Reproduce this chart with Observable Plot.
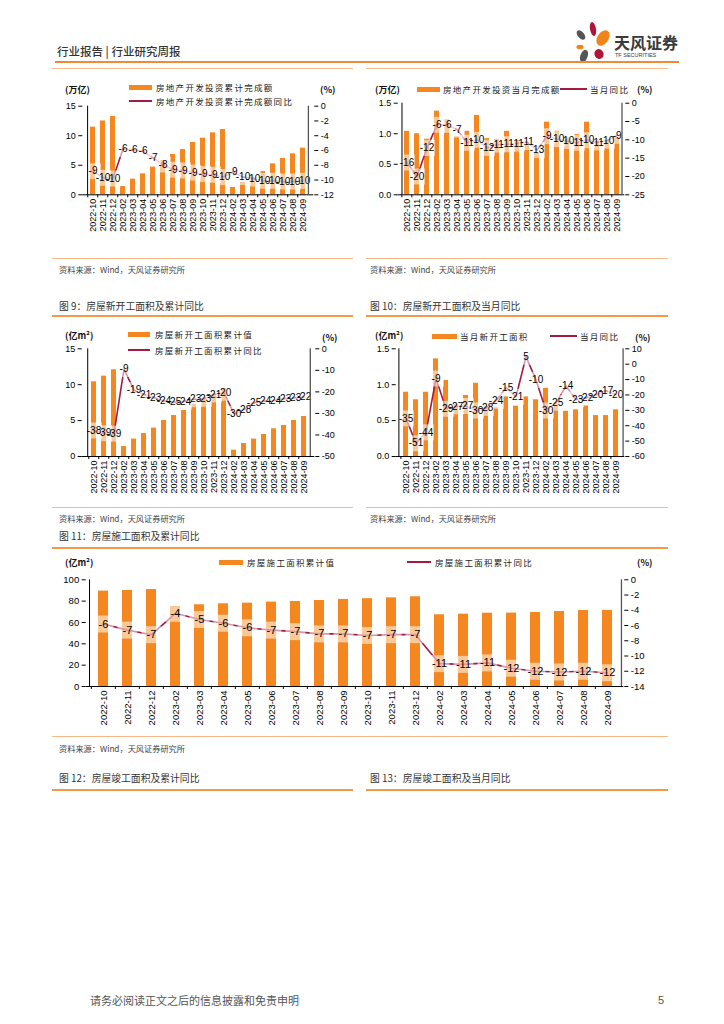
<!DOCTYPE html>
<html><head><meta charset="utf-8">
<script src="https://cdn.jsdelivr.net/npm/d3@7"></script>
<script src="https://cdn.jsdelivr.net/npm/@observablehq/plot@0.6"></script>
<style>
html,body{margin:0;padding:0;background:#fff;}
#page{position:relative;width:724px;height:1024px;overflow:hidden;background:#fff;font-family:"Noto Sans CJK SC","Liberation Sans",sans-serif;color:#333;}
.t{position:absolute;white-space:nowrap;line-height:1;transform:translateY(-50%);}
.ln{position:absolute;height:0;}
.sw{position:absolute;}
svg.plot{position:absolute;}
</style></head>
<body><div id="page"></div>
<script>
// ---------- data ----------
const months = ["2022-10","2022-11","2022-12","2023-02","2023-03","2023-04","2023-05","2023-06","2023-07","2023-08","2023-09","2023-10","2023-11","2023-12","2024-02","2024-03","2024-04","2024-05","2024-06","2024-07","2024-08","2024-09"];

// 房地产开发投资累计完成额（万亿）及同比（%）
const investCum = [11.45,12.5,13.25,1.41,2.65,3.55,4.68,5.81,6.82,7.67,8.86,9.59,10.49,11.05,1.24,2.09,3.0,3.95,5.25,6.15,6.94,7.9];
const investCumYoy = [-8.8,-9.7,-9.8,-5.8,-5.9,-6.1,-7.0,-7.9,-8.6,-8.7,-9.0,-9.2,-9.3,-9.6,-8.9,-9.6,-9.8,-10.1,-10.1,-10.2,-10.2,-10.1];

// 房地产开发投资当月完成额（万亿）及当月同比（%）
const investMonth = [1.04,1.0,0.91,1.37,1.23,0.95,1.04,1.30,0.92,0.91,1.04,0.89,0.81,0.68,1.19,1.04,0.93,0.99,1.19,0.88,0.89,0.93];
const investMonthYoy = [-16.2,-20.0,-12.2,-5.9,-5.9,-7.2,-10.8,-10.0,-12.2,-11.3,-11.2,-11.0,-10.6,-12.8,-9.0,-9.8,-10.3,-10.8,-10.1,-10.7,-10.2,-8.9];

// 房屋新开工面积累计值（亿m²）及累计同比（%）
const newStartCum = [10.4,11.19,12.08,1.39,2.42,3.2,3.95,5.02,5.71,6.41,7.3,7.9,8.7,9.47,0.88,1.81,2.42,3.07,3.86,4.32,5.02,5.57];
const newStartCumYoy = [-37.9,-39.2,-39.4,-9.4,-19.2,-21.2,-22.6,-24.3,-24.8,-24.4,-23.4,-23.2,-21.2,-20.4,-30.2,-28.2,-25.1,-24.3,-24.0,-23.2,-22.8,-22.4];

// 当月新开工面积（亿m²）及当月同比（%）
const newStartMonth = [0.895,0.79,0.895,1.36,1.06,0.72,0.85,1.02,0.70,0.68,0.83,0.70,0.83,0.79,0.95,0.72,0.63,0.65,0.71,0.57,0.57,0.65];
const newStartMonthYoy = [-35.2,-51.4,-44.3,-9.3,-29.0,-27.4,-27.2,-30.1,-28.4,-23.8,-15.2,-21.2,4.8,-10.2,-30.1,-25.1,-14.3,-23.0,-21.9,-19.8,-17.2,-19.8];

// 房屋施工面积累计值（亿m²）及累计同比（%）
const constrCum = [89.4,90.0,90.9,75.0,76.6,77.5,78.1,79.1,79.7,80.6,81.6,82.3,83.1,84.1,67.2,67.8,68.7,68.8,69.4,70.3,71.2,71.3];
const constrCumYoy = [-5.8,-6.6,-7.2,-4.4,-5.2,-5.7,-6.3,-6.6,-6.8,-7.1,-7.1,-7.3,-7.2,-7.2,-11.0,-11.1,-10.9,-11.6,-12.0,-12.1,-12.0,-12.2];

// axis ticks
const ticksLeft15 = [0,5,10,15];
const ticksLeft1_5 = [0,0.5,1.0,1.5];
const ticksLeft100 = [0,20,40,60,80,100];
const ticksRight1 = [0,-2,-4,-6,-8,-10,-12];
const ticksRight2 = [0,-5,-10,-15,-20,-25];
const ticksRight3 = [0,-10,-20,-30,-40,-50];
const ticksRight4 = [10,0,-10,-20,-30,-40,-50,-60];
const ticksRight5 = [0,-2,-4,-6,-8,-10,-12,-14];

// ---------- styles ----------
const BAR = "#f4871f";
const LINE = "#a51a40";
const page = document.getElementById("page");

function txt(x, y, s, css = "") {
  const d = document.createElement("div");
  d.className = "t"; d.textContent = s;
  d.style.cssText = `left:${x}px;top:${y}px;` + css;
  page.appendChild(d); return d;
}
function hline(x1, x2, y, color, w) {
  const d = document.createElement("div");
  d.className = "ln";
  d.style.cssText = `left:${x1}px;top:${y - w/2}px;width:${x2 - x1}px;border-top:${w}px solid ${color};`;
  page.appendChild(d);
}
function swatch(x, y, w, h, color) {
  const d = document.createElement("div");
  d.className = "sw";
  d.style.cssText = `left:${x}px;top:${y - h/2}px;width:${w}px;height:${h}px;background:${color};`;
  page.appendChild(d);
}
const legendCss = "font-size:8.5px;letter-spacing:1.3px;color:#222;font-family:'Noto Sans CJK SC',sans-serif;";
const unitCss = "font-size:9px;font-weight:bold;color:#111;font-family:'Noto Sans CJK SC','Liberation Sans',sans-serif;";

function dual(cfg) {
  const {left, top, width, height, mL, mR, mT, mB, pi, po, bars, line, lDom, lTicks, lFmt, rDom, rTicks, labelSize, boxW, boxH, tickFont} = cfg;
  const [l0, l1] = lDom, [r0, r1] = rDom;
  const toL = v => l0 + (v - r0) * (l1 - l0) / (r1 - r0);
  const toR = v => r0 + (v - l0) * (r1 - r0) / (l1 - l0);
  const data = months.map((m, i) => ({m, b: bars[i], y: toL(line[i]), lab: String(Math.round(line[i]))}));
  const n = months.length;
  const W = width - mL - mR;
  const step = W / (n - pi + 2 * po);
  const edge = (po + (1 - pi) / 2) * step;
  const box = {draw(ctx) { ctx.rect(-boxW / 2, -boxH / 2, boxW, boxH); }};
  const svg = Plot.plot({
    width, height, marginLeft: mL, marginRight: mR, marginTop: mT, marginBottom: mB,
    x: {type: "band", domain: months, paddingInner: pi, paddingOuter: po, align: 0.5},
    y: {domain: lDom},
    style: {fontFamily: "'Liberation Sans',Arial,sans-serif", fontSize: tickFont || "9px", color: "#000", background: "transparent", overflow: "visible"},
    marks: [
      Plot.barY(data, {x: "m", y: "b", fill: BAR}),
      Plot.lineY(data, {x: "m", y: "y", stroke: LINE, strokeWidth: 1.6}),
      Plot.dot(data, {x: "m", y: "y", symbol: box, r: 5, fill: "#fff", fillOpacity: 0.55, stroke: "none"}),
      Plot.text(data, {x: "m", y: "y", text: "lab", fontSize: labelSize, fill: "#000"}),
      Plot.ruleY([l0], {stroke: "#000", strokeWidth: 1}),
      Plot.ruleX([months[0]], {dx: -edge, stroke: "#000"}),
      Plot.ruleX([months[n - 1]], {dx: edge, stroke: "#555", strokeWidth: 1.3}),
      Plot.axisX({tickSize: 0, tickRotate: -90, tickPadding: 4, label: null}),
      Plot.axisX({tickSize: 3, tickFormat: () => "", dx: -step / 2, label: null}),
      Plot.axisY({anchor: "left", ticks: lTicks, tickFormat: lFmt, tickSize: 4, tickPadding: 3, label: null}),
      Plot.axisY({anchor: "right", ticks: rTicks.map(toL), tickFormat: d => String(Math.round(toR(d))), tickSize: 4, tickPadding: 3, label: null})
    ]
  });
  svg.classList.add("plot");
  svg.style.left = left + "px"; svg.style.top = top + "px";
  page.appendChild(svg);
}

// ---------- charts ----------
dual({left: 52, top: 70, width: 300, height: 172, mL: 30.3, mR: 38.7, mT: 35.7, mB: 47.7,
  pi: 0.52, po: 0.275, bars: investCum, line: investCumYoy,
  lDom: [0, 15], lTicks: ticksLeft15, lFmt: d3.format("d"), rDom: [-12, 0], rTicks: ticksRight1,
  labelSize: 10, boxW: 16, boxH: 16});

dual({left: 366, top: 70, width: 302, height: 172, mL: 31.7, mR: 43.7, mT: 32.7, mB: 47.7,
  pi: 0.5, po: 0.235, bars: investMonth, line: investMonthYoy,
  lDom: [0, 1.5], lTicks: ticksLeft1_5, lFmt: d3.format(".1f"), rDom: [-25, 0], rTicks: ticksRight2,
  labelSize: 10, boxW: 16, boxH: 16});

dual({left: 52, top: 318, width: 300, height: 180, mL: 29.7, mR: 37.7, mT: 30.3, mB: 42,
  pi: 0.52, po: 0.36, bars: newStartCum, line: newStartCumYoy,
  lDom: [0, 15], lTicks: ticksLeft15, lFmt: d3.format("d"), rDom: [-50, 0], rTicks: ticksRight3,
  labelSize: 10, boxW: 16, boxH: 16});

dual({left: 366, top: 318, width: 302, height: 180, mL: 29.7, mR: 43.7, mT: 30.3, mB: 42,
  pi: 0.5, po: 0.445, bars: newStartMonth, line: newStartMonthYoy,
  lDom: [0, 1.5], lTicks: ticksLeft1_5, lFmt: d3.format(".1f"), rDom: [-60, 10], rTicks: ticksRight4,
  labelSize: 10, boxW: 16, boxH: 16});

dual({left: 52, top: 550, width: 616, height: 185, mL: 33.7, mR: 44.7, mT: 29.3, mB: 49,
  pi: 0.59, po: 0.37, bars: constrCum, line: constrCumYoy,
  lDom: [0, 100], lTicks: ticksLeft100, lFmt: d3.format("d"), rDom: [-14, 0], rTicks: ticksRight5,
  labelSize: 11, boxW: 20, boxH: 17, tickFont: "9.5px"});

// ---------- header ----------
txt(57, 52, "行业报告 | 行业研究周报", "font-size:11.5px;color:#333;font-weight:500;");
const logo = document.createElementNS("http://www.w3.org/2000/svg", "svg");
logo.setAttribute("width", "36"); logo.setAttribute("height", "42");
logo.style.cssText = "position:absolute;left:575px;top:21px;";
logo.innerHTML = `
<ellipse cx="18" cy="8" rx="3" ry="7" fill="#b0163c" transform="rotate(-10 18 8)"/>
<ellipse cx="6" cy="14" rx="3.2" ry="5.5" fill="#555" transform="rotate(-40 6 14)"/>
<ellipse cx="28" cy="17" rx="5.5" ry="8.5" fill="#f08519" transform="rotate(35 28 17)"/>
<ellipse cx="5" cy="26" rx="3.6" ry="2.3" fill="#f08519"/>
<ellipse cx="9" cy="35" rx="3.6" ry="6.5" fill="#555" transform="rotate(20 9 35)"/>
<ellipse cx="24" cy="33" rx="4.5" ry="5" fill="#b0163c" transform="rotate(-30 24 33)"/>`;
page.appendChild(logo);
txt(614, 42, "天风证券", "font-size:16px;font-weight:bold;color:#3a3a3a;");
txt(615, 56, "TF SECURITIES", "font-size:5.5px;color:#3a3a3a;font-family:'Liberation Sans',sans-serif;");
hline(55, 679, 62, "#ee8a38", 2);

// ---------- row 1 ----------
hline(52, 353, 69, "#f7b987", 1.5);
hline(366, 668, 69, "#f7b987", 1.5);
txt(65, 89, "(万亿)", unitCss);
swatch(129, 87, 23, 5, BAR);
txt(156, 87, "房地产开发投资累计完成额", legendCss);
swatch(129, 101, 23, 2, LINE);
txt(156, 101, "房地产开发投资累计完成额同比", legendCss);
txt(320, 89, "(%)", unitCss);

txt(375, 89, "(万亿)", unitCss);
swatch(417, 89, 23, 5, BAR);
txt(443, 89, "房地产开发投资当月完成额", legendCss);
swatch(560, 89, 27, 2, LINE);
txt(590, 89, "当月同比", legendCss);
txt(637, 89, "(%)", unitCss);

hline(52, 353, 259, "#f7b987", 1.5);
hline(366, 668, 259, "#f7b987", 1.5);
const srcCss = "font-size:8.2px;color:#444;";
txt(59, 269, "资料来源：Wind，天风证券研究所", srcCss);
txt(370, 269, "资料来源：Wind，天风证券研究所", srcCss);
const capCss = "font-size:9.8px;color:#333;";
txt(59, 307, "图 9：房屋新开工面积及累计同比", capCss);
txt(370, 307, "图 10：房屋新开工面积及当月同比", capCss);
hline(52, 353, 316, "#f29a4c", 2);
hline(366, 668, 316, "#f29a4c", 2);

// ---------- row 2 ----------
txt(65, 335, "(亿m²)", unitCss);
swatch(128, 334, 22, 5, BAR);
txt(155, 334, "房屋新开工面积累计值", legendCss);
swatch(128, 350, 22, 2, LINE);
txt(155, 350, "房屋新开工面积累计同比", legendCss);
txt(322, 337, "(%)", unitCss);

txt(375, 335, "(亿m²)", unitCss);
swatch(432, 336, 25, 5, BAR);
txt(460, 336, "当月新开工面积", legendCss);
swatch(550, 336, 27, 2, LINE);
txt(580, 336, "当月同比", legendCss);
txt(635, 337, "(%)", unitCss);

hline(52, 353, 508, "#f7b987", 1.5);
hline(366, 668, 508, "#f7b987", 1.5);
txt(59, 518, "资料来源：Wind，天风证券研究所", srcCss);
txt(370, 518, "资料来源：Wind，天风证券研究所", srcCss);
txt(59, 537, "图 11：房屋施工面积及累计同比", capCss);
hline(52, 668, 548, "#f29a4c", 2);

// ---------- row 3 ----------
txt(65, 562, "(亿m²)", unitCss);
swatch(219, 562, 24, 5, BAR);
txt(247, 562, "房屋施工面积累计值", legendCss);
swatch(407, 562, 24, 2, LINE);
txt(435, 562, "房屋施工面积累计同比", legendCss);
txt(637, 562, "(%)", unitCss);

hline(52, 668, 737, "#f7b987", 1.5);
txt(59, 748, "资料来源：Wind，天风证券研究所", srcCss);
txt(59, 779, "图 12：房屋竣工面积及累计同比", capCss);
txt(370, 779, "图 13：房屋竣工面积及当月同比", capCss);
hline(52, 353, 790, "#f29a4c", 2);
hline(366, 668, 790, "#f29a4c", 2);

// ---------- footer ----------
txt(90, 1000, "请务必阅读正文之后的信息披露和免责申明", "font-size:11px;color:#555;");
txt(658, 1000, "5", "font-size:11px;color:#555;font-family:'Liberation Sans',sans-serif;");
</script>
</body></html>
